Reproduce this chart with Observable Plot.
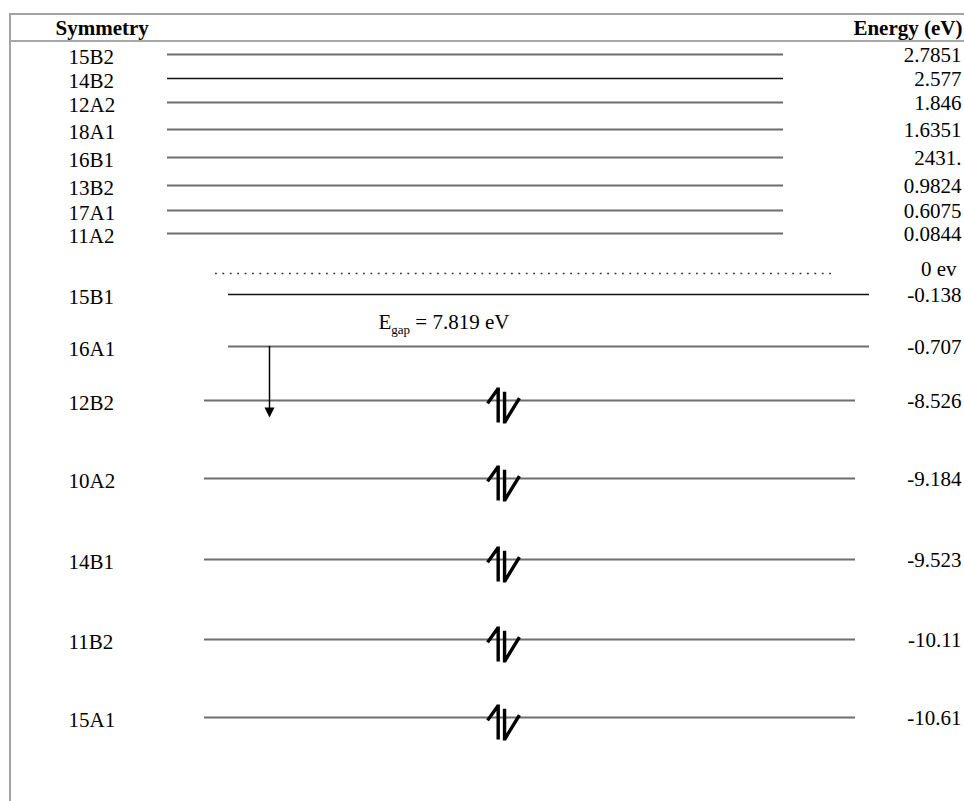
<!DOCTYPE html>
<html>
<head>
<meta charset="utf-8">
<script src="https://cdn.jsdelivr.net/npm/d3@7"></script>
<script src="https://cdn.jsdelivr.net/npm/@observablehq/plot@0.6"></script>
<style>
  html, body { margin: 0; padding: 0; background: #fff; }
  #wrap { position: relative; width: 964px; height: 801px; overflow: hidden; }
  #wrap .frame { position: absolute; left: 9px; top: 13px; right: -5px; bottom: -5px;
    border-top: 2px solid #a3a3a3; border-left: 2px solid #a3a3a3; pointer-events: none; }
  #wrap .hdr { position: absolute; left: 10px; right: 0; top: 40px;
    border-top: 2px solid #a8a8a8; pointer-events: none; }
  svg { display: block; }
</style>
</head>
<body>
<div id="wrap"></div>
<script>
// ---- data ----
const symmetry = ["15B2","14B2","12A2","18A1","16B1","13B2","17A1","11A2","15B1","16A1","12B2","10A2","14B1","11B2","15A1"];
const energy = [2.7851, 2.577, 1.846, 1.6351, 1.2431, 0.9824, 0.6075, 0.0844, -0.138, -0.707, -8.526, -9.184, -9.523, -10.11, -10.61];
const energyLabel = ["2.7851","2.577","1.846","1.6351","2431.","0.9824","0.6075","0.0844","-0.138","-0.707","-8.526","-9.184","-9.523","-10.11","-10.61"];
const electrons = [0,0,0,0,0,0,0,0,0,0,2,2,2,2,2];
const columnTitles = ["Symmetry", "Energy (eV)"];
const fermiLevel = 0;
const fermiLabel = "0 ev";
const gapValue = 7.819;

// ---- derived tables ----
const levels = symmetry.map((s, i) => ({symmetry: s, energy: energy[i], label: energyLabel[i], electrons: electrons[i]}));
const occupied = levels.filter(d => d.electrons > 0);
const virtual = levels.filter(d => d.electrons === 0);
const homo = d3.greatest(occupied, d => d.energy);
const lumo = d3.least(virtual, d => d.energy);
const gap = {from: lumo.energy, to: homo.energy, value: gapValue};
const yDomain = [...energy, fermiLevel].sort((a, b) => b - a);

// the diagram is not to scale: each level sits in its own row (piecewise energy axis)
const rowOf = d3.scaleLinear().domain(yDomain)
  .range([54, 78, 102, 129, 157, 185, 210, 233, 273, 294, 346, 400, 478, 559, 639, 717]);

// spin-pair glyph (up harpoon beside down harpoon)
const spinPair = {
  draw(ctx, size) {
    const u = Math.sqrt(size / Math.PI) / 16;
    ctx.moveTo(-15 * u, -2 * u); ctx.lineTo(-5 * u, -16 * u);
    ctx.moveTo(-5 * u, -17 * u); ctx.lineTo(-5 * u, 16 * u);
    ctx.moveTo(1 * u, -13 * u); ctx.lineTo(1 * u, 17 * u);
    ctx.moveTo(1 * u, 16 * u); ctx.lineTo(15 * u, -7 * u);
  }
};
const downTriangle = {
  draw(ctx, size) {
    const r = Math.sqrt(size / Math.PI);
    ctx.moveTo(-r, -r); ctx.lineTo(r, -r); ctx.lineTo(0, r); ctx.closePath();
  }
};

const isDark = d => d.symmetry === "14B2" || d.symmetry === "15B1";
const lineX1 = d => d.electrons ? 204 : d.energy > fermiLevel ? 167 : 228;
const lineX2 = d => d.electrons ? 855 : d.energy > fermiLevel ? 783 : 869;

const chart = Plot.plot({
  width: 964,
  height: 801,
  margin: 0,
  x: {domain: [0, 964], range: [0, 964], axis: null},
  y: {transform: rowOf, domain: [0, 801], range: [0, 801], axis: null},
  style: {fontFamily: "'Liberation Serif', 'Times New Roman', serif", fontSize: "21px", color: "#000", background: "transparent"},
  marks: [
    Plot.ruleY(levels, {y: "energy", x1: lineX1, x2: lineX2,
      stroke: d => isDark(d) ? "#111" : "#6e6e6e", strokeWidth: d => isDark(d) ? 1.6 : 2.2}),
    Plot.ruleY([fermiLevel], {y: d => d, x1: 215, x2: 832, stroke: "#333", strokeWidth: 1.6, strokeDasharray: "1.8 5.6"}),
    Plot.text(levels, {x: 68, y: "energy", text: "symmetry", textAnchor: "start", dy: 3, fontSize: 21}),
    Plot.text(levels, {x: 961, y: "energy", text: "label", textAnchor: "end", dy: 1, fontSize: 21}),
    Plot.text([fermiLevel], {x: 956, y: d => d, text: () => fermiLabel, textAnchor: "end", dy: -4, fontSize: 21}),
    Plot.text([columnTitles[0]], {frameAnchor: "top-left", text: d => d, dx: 55, dy: 20, fontWeight: "bold", fontSize: 21}),
    Plot.text([columnTitles[1]], {frameAnchor: "top-right", text: d => d, dx: -2, dy: 20, fontWeight: "bold", fontSize: 21}),
    Plot.dot(occupied, {x: 503, y: "energy", r: 17, symbol: spinPair, fill: "none", stroke: "#000", strokeWidth: 3.4, dy: 5}),
    Plot.ruleX([gap], {x: 269, y1: "from", y2: "to", insetBottom: -8, stroke: "#000", strokeWidth: 1.5}),
    Plot.dot([gap], {x: 269, y: "to", r: 5, symbol: downTriangle, fill: "#000", stroke: "none", dy: 12}),
    Plot.text([gap], {x: 378, y: "from", text: d => `Egap = ${d.value} eV`, textAnchor: "start", dy: -24, fontSize: 21})
  ]
});

// subscript "gap" in the gap annotation
d3.select(chart).selectAll("text").each(function() {
  if (this.textContent === `Egap = ${gapValue} eV`) {
    const t = d3.select(this);
    t.text("");
    t.append("tspan").text("E");
    t.append("tspan").attr("font-size", 13).attr("dy", 5).text("gap");
    t.append("tspan").attr("dy", -5).text(` = ${gapValue} eV`);
  }
});

const wrap = document.getElementById("wrap");
wrap.appendChild(chart);
const f = document.createElement("div"); f.className = "frame"; wrap.appendChild(f);
const h = document.createElement("div"); h.className = "hdr"; wrap.appendChild(h);
</script>
</body>
</html>
